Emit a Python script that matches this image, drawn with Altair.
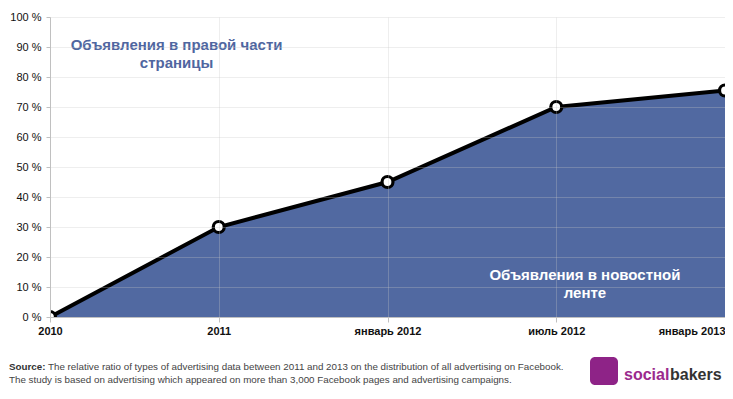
import altair as alt
import pandas as pd

# ---- data ----
periods = ["2010", "2011", "январь 2012", "июль 2012", "январь 2013"]
period_index = [0, 1, 2, 3, 4]
share_newsfeed = [0, 30, 45, 70, 75.5]
y_ticks = [0, 10, 20, 30, 40, 50, 60, 70, 80, 90, 100]

ann_text = ["Объявления в правой части", "страницы", "Объявления в новостной", "ленте"]
ann_x = [0.75, 0.75, 3.17, 3.17]
ann_y = [90.7, 84.7, 14.0, 8.0]
ann_color = ["#4f66a0", "#4f66a0", "#ffffff", "#ffffff"]

source_bold = "Source:"
source_line1 = "The relative ratio of types of advertising data between 2011 and 2013 on the distribution of all advertising on Facebook."
source_line2 = "The study is based on advertising which appeared on more than 3,000 Facebook pages and advertising campaigns."
logo_a = "social"
logo_b = "bakers"

W, H = 675, 300
FONT = "Liberation Sans"

df = pd.DataFrame({"i": period_index, "v": share_newsfeed, "p": periods})
ann = pd.DataFrame({"t": ann_text, "i": ann_x, "v": ann_y, "c": ann_color})
one = pd.DataFrame({"k": [0]})

label_arr = "[" + ",".join("'" + p + "'" for p in periods) + "]"

x_enc = alt.X(
    "i:Q",
    scale=alt.Scale(domain=[0, 4], nice=False, zero=False),
    axis=alt.Axis(
        values=period_index,
        labelExpr=label_arr + "[datum.value]",
        title=None,
        grid=True,
        gridColor="#c8c8c8",
        gridOpacity=0.3,
        domainColor="#c0c0c0",
        tickColor="#c0c0c0",
        tickSize=5,
        labelFont=FONT,
        labelFontSize=11,
        labelFontWeight="bold",
        labelColor="#111111",
        labelPadding=3,
        labelBound=False,
        labelOverlap=False,
        labelFlush=False,
        labelAlign={"expr": "datum.value == 4 ? 'right' : 'center'"},
        zindex=1,
    ),
)
y_enc = alt.Y(
    "v:Q",
    scale=alt.Scale(domain=[0, 100], nice=False),
    axis=alt.Axis(
        values=y_ticks,
        labelExpr="datum.value + ' %'",
        title=None,
        grid=True,
        gridColor="#c8c8c8",
        gridOpacity=0.3,
        domainColor="#c0c0c0",
        tickColor="#c0c0c0",
        tickSize=4,
        labelFont=FONT,
        labelFontSize=11,
        labelColor="#111111",
        labelPadding=5,
        labelOverlap=False,
        labelBound=False,
        labelFlush=False,
        zindex=1,
    ),
)

base = alt.Chart(df).encode(x=x_enc, y=y_enc)
area = base.mark_area(color="#5169a1", clip=True)
line = base.mark_line(color="#000000", strokeWidth=4, clip=True)
pts = base.mark_point(
    filled=True, fill="#ffffff", stroke="#000000", strokeWidth=3.2, size=120, opacity=1, clip=True
)

labels = alt.Chart(ann).mark_text(
    font=FONT, fontSize=15, fontWeight="bold", align="center", baseline="middle"
).encode(x=x_enc, y=y_enc, text="t:N", color=alt.Color("c:N", scale=None))

def txt(s, x, y, size, weight, color, align="left"):
    return alt.Chart(pd.DataFrame({"t": [s]})).mark_text(
        font=FONT, fontSize=size, fontWeight=weight, color=color, align=align, baseline="alphabetic"
    ).encode(x=alt.value(x), y=alt.value(y), text="t:N")

foot1b = txt(source_bold, -41, 353, 9.8, "bold", "#333333")
foot1 = txt(source_line1, -2, 353, 9.8, "normal", "#444444")
foot2 = txt(source_line2, -41, 366, 9.8, "normal", "#444444")

logo_box = alt.Chart(one).mark_rect(color="#8e2387", cornerRadius=5).encode(
    x=alt.value(540), x2=alt.value(568), y=alt.value(340), y2=alt.value(368)
)
logo_t1 = txt(logo_a, 574, 363, 16, "bold", "#9b2a8d")
logo_t2 = txt(logo_b, 620, 363, 16, "bold", "#333333")

chart = alt.layer(
    area, line, pts, labels, foot1b, foot1, foot2, logo_box, logo_t1, logo_t2
).properties(
    width=W,
    height=H,
    padding={"left": 42, "top": 9, "right": 0, "bottom": 70},
    autosize=alt.AutoSizeParams(type="none"),
    background="#ffffff",
).configure_view(strokeWidth=0)

chart.save("out.html", embed_options={"renderer": "svg", "actions": False})
